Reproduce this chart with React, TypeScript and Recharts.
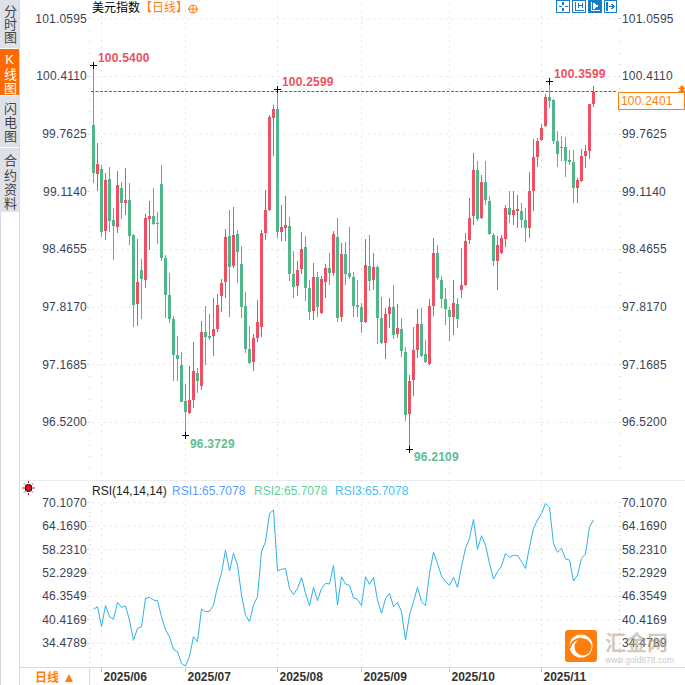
import { Bar, CartesianGrid, ComposedChart, Line, ReferenceDot, ReferenceLine, XAxis, YAxis } from 'recharts'

// daily candles, one value per trading day
const opens = [
  99.866, 99.314, 99.371, 98.673, 99.258, 98.797, 98.718, 99.157, 98.988, 99.022,
  98.628, 97.852, 98.234, 98.122, 98.808, 98.841, 98.763, 99.202, 98.369, 97.953,
  97.683, 97.278, 97.166, 96.761, 96.625, 96.772, 97.075, 96.929, 97.536, 97.491,
  97.491, 97.571, 97.941, 98.099, 98.616, 98.279, 98.639, 98.302, 97.829, 97.345,
  97.199, 97.469, 97.593, 98.65, 98.909, 99.944, 100.045, 98.661, 98.707, 98.729,
  98.189, 98.054, 98.245, 98.493, 98.032, 97.773, 98.156, 97.75, 98.099, 98.257,
  98.2, 98.605, 97.705, 98.414, 98.2, 98.156, 97.841, 97.818, 97.649, 98.279,
  98.122, 98.268, 97.694, 97.413, 97.739, 97.818, 97.514, 97.571, 97.311, 96.614,
  96.997, 97.334, 97.627, 97.289, 97.177, 97.829, 98.425, 98.122, 97.908, 97.784,
  97.705, 97.852, 98.009, 98.065, 98.572, 98.841, 99.359, 98.819, 99.224, 99.011,
  98.628, 98.336, 98.425, 98.583, 98.932, 98.853, 98.898, 98.898, 98.797, 98.707,
  99.123, 99.506, 99.697, 99.854, 100.18, 100.147, 99.686, 99.618, 99.618, 99.472,
  99.449, 99.157, 99.236, 99.517, 99.573, 100.102,
]
const highs = [
  100.54, 99.663, 99.416, 99.325, 99.393, 98.932, 99.348, 99.224, 99.382, 99.213,
  98.639, 98.583, 98.358, 98.864, 99.011, 99.157, 98.886, 99.416, 98.403, 98.2,
  97.716, 97.491, 97.311, 96.952, 97.154, 97.424, 97.132, 97.661, 97.829, 97.739,
  97.919, 97.964, 98.133, 98.695, 98.909, 98.943, 98.684, 98.504, 97.986, 97.604,
  97.514, 97.897, 98.684, 99.134, 99.978, 100.09, 100.2599, 98.965, 99.067, 98.83,
  98.448, 98.336, 98.661, 98.616, 98.122, 98.313, 98.212, 98.167, 98.302, 98.425,
  98.673, 98.819, 98.538, 98.549, 98.718, 98.212, 98.122, 97.863, 98.583, 98.628,
  98.425, 98.291, 97.93, 97.807, 97.919, 98.065, 97.852, 97.694, 97.368, 97.053,
  97.593, 97.795, 97.807, 97.447, 97.908, 98.594, 98.516, 98.167, 98.032, 97.818,
  98.122, 97.919, 98.482, 98.65, 99.045, 99.551, 99.461, 99.304, 99.461, 99.067,
  98.65, 98.616, 98.628, 98.965, 99.123, 99.123, 99.078, 98.988, 98.932, 99.337,
  99.708, 99.719, 99.877, 100.214, 100.3599, 100.158, 99.798, 99.742, 99.731, 99.584,
  99.584, 99.27, 99.595, 99.64, 100.102, 100.304,
]
const lows = [
  99.213, 99.123, 98.605, 98.572, 98.661, 98.347, 98.65, 98.808, 98.853, 98.516,
  97.593, 97.604, 97.683, 98.032, 98.459, 98.741, 98.527, 98.336, 97.694, 97.638,
  96.986, 96.986, 96.749, 96.3729, 96.614, 96.682, 96.85, 96.884, 97.166, 97.447,
  97.266, 97.536, 97.761, 97.919, 97.705, 98.257, 98.088, 97.694, 97.3, 97.177,
  97.098, 97.424, 97.48, 98.572, 98.9, 99.516, 98.594, 98.56, 98.56, 98.11,
  97.919, 97.942, 98.189, 97.886, 97.672, 97.672, 97.705, 97.739, 97.919, 98.065,
  98.167, 97.649, 97.649, 98.065, 98.133, 97.705, 97.705, 97.525, 97.638, 97.998,
  98.009, 97.402, 97.402, 97.233, 97.582, 97.458, 97.469, 97.255, 96.536, 96.2109,
  96.817, 97.244, 97.255, 97.188, 97.166, 97.716, 98.122, 97.807, 97.616, 97.435,
  97.503, 97.582, 97.919, 98.054, 98.527, 98.741, 98.786, 98.808, 98.965, 98.628,
  98.279, 98.009, 98.414, 98.493, 98.763, 98.741, 98.707, 98.707, 98.549, 98.594,
  98.898, 99.393, 99.686, 99.843, 100.056, 99.652, 99.393, 99.461, 99.281, 99.416,
  98.988, 98.988, 99.225, 99.382, 99.483, 100.068,
]
const closes = [
  99.325, 99.427, 98.661, 99.247, 98.786, 98.729, 99.191, 98.988, 99.022, 98.616,
  97.841, 98.099, 98.133, 98.819, 98.841, 98.752, 98.752, 98.369, 97.953, 97.683,
  97.278, 97.233, 96.749, 96.636, 96.772, 97.098, 96.986, 97.536, 97.48, 97.469,
  97.571, 97.841, 98.088, 98.605, 98.268, 98.628, 98.436, 97.818, 97.345, 97.188,
  97.469, 97.649, 98.65, 98.909, 99.955, 100.045, 98.661, 98.718, 98.741, 98.189,
  98.043, 98.234, 98.47, 98.032, 97.761, 98.156, 97.818, 98.133, 98.257, 98.2,
  98.639, 97.694, 98.414, 98.189, 98.156, 97.829, 97.818, 97.649, 98.291, 98.11,
  98.268, 97.694, 97.413, 97.739, 97.818, 97.503, 97.582, 97.323, 96.603, 96.986,
  97.334, 97.627, 97.266, 97.199, 97.829, 98.425, 98.144, 97.908, 97.795, 97.705,
  97.863, 97.683, 98.065, 98.56, 98.819, 99.359, 98.808, 99.224, 99.022, 98.639,
  98.336, 98.516, 98.594, 98.932, 98.853, 98.909, 98.92, 98.797, 98.707, 99.123,
  99.506, 99.686, 99.832, 100.18, 100.135, 99.686, 99.539, 99.607, 99.461, 99.449,
  99.157, 99.247, 99.517, 99.573, 100.102, 100.2401,
]
const rsiValues = [
  43.09, 43.77, 38.7, 44.1, 41.23, 40.56, 44.86, 43.6, 43.93, 40.39,
  35.24, 38.28, 38.7, 45.88, 46.13, 45.45, 45.28, 41.23, 37.85, 36.17,
  32.96, 32.37, 29.41, 28.74, 31.1, 36.17, 34.9, 43.17, 42.5, 42.58,
  44.19, 48.83, 52.21, 58.12, 52.88, 57.27, 54.32, 46.72, 41.65, 39.96,
  44.19, 46.3, 57.7, 60.23, 67.41, 68.25, 52.88, 53.22, 53.47, 48.41,
  46.8, 48.41, 51.19, 47.14, 43.93, 48.66, 45.28, 48.41, 49.67, 49.51,
  54.23, 44.19, 51.36, 49.51, 49.17, 46.04, 45.62, 44.02, 51.36, 49.42,
  51.19, 45.45, 42.08, 45.8, 47.14, 43.77, 44.86, 42.5, 35.32, 41.65,
  45.03, 48.66, 45.03, 44.02, 52.21, 57.53, 54.74, 51.53, 50.1, 49.17,
  51.19, 48.66, 53.9, 58.54, 61.07, 65.89, 58.29, 61.75, 59.38, 54.74,
  50.77, 52.63, 54.07, 57.27, 56.26, 56.77, 56.77, 55.16, 53.47, 58.96,
  63.61, 65.72, 67.41, 69.94, 68.93, 59.81, 57.53, 58.54, 55.84, 55.59,
  50.27, 51.79, 56.01, 57.11, 64.03, 65.7078,
]

const monthIndexes = [2, 23, 46, 67, 89, 112]
const monthLabels = ['2025/06', '2025/07', '2025/08', '2025/09', '2025/10', '2025/11']

const priceTicks = [101.0595, 100.411, 99.7625, 99.114, 98.4655, 97.817, 97.1685, 96.52]
const priceMinorTicks = [
  100.9298, 100.8001, 100.6704, 100.5407, 100.2813, 100.1516, 100.0219, 99.8922,
  99.6328, 99.5031, 99.3734, 99.2437, 98.9843, 98.8546, 98.7249, 98.5952,
  98.3358, 98.2061, 98.0764, 97.9467, 97.6873, 97.5576, 97.4279, 97.2982,
  97.0388, 96.9091, 96.7794, 96.6497, 96.3903, 96.2606, 96.1309, 96.0012,
]
const rsiTicks = [70.107, 64.169, 58.231, 52.2929, 46.3549, 40.4169, 34.4789]
const rsiMinorTicks = [
  68.9194, 67.7318, 66.5442, 65.3566, 62.9814, 61.7938, 60.6062, 59.4186,
  57.0434, 55.8558, 54.6682, 53.4806, 51.1053, 49.9177, 48.7301, 47.5425,
  45.1673, 43.9797, 42.7921, 41.6045, 39.2293, 38.0417, 36.8541, 35.6665,
  33.2913, 32.1037, 30.9161, 29.7285,
]

const lastPrice = 100.2401
const markIndexes = [0, 46, 114, 23, 79]
const markValues = [100.54, 100.2599, 100.3599, 96.3729, 96.2109]

const RED = '#EF4F62'
const GREEN = '#52B788'
const ORANGE = '#FF7F0E'
const BLUE = '#0080FF'
const AXIS_TEXT = '#3A4256'
const GRID = '#E6E6E6'
const LATIN = '"Liberation Sans", Arial, sans-serif'
const CJK = '"Liberation Sans", "Noto Sans CJK SC", sans-serif'

const rows = opens.map((open, i) => ({
  i,
  open,
  close: closes[i],
  high: highs[i],
  low: lows[i],
  range: [lows[i], highs[i]],
  rsi: rsiValues[i],
}))

function Candle({ x, y, width, height, payload }: any) {
  const { open, close, high, low } = payload
  const color = close >= open ? RED : GREEN
  const perUnit = height / (high - low)
  const top = Math.round(y + (high - Math.max(open, close)) * perUnit)
  const bottom = Math.round(y + (high - Math.min(open, close)) * perUnit)
  const center = Math.floor(x + width / 2)
  return (
    <g shapeRendering="crispEdges">
      <rect x={center} y={Math.round(y)} width={1} height={Math.max(1, Math.round(height))} fill={color} />
      <rect x={center - 1} y={top} width={3} height={Math.max(1, bottom - top)} fill={color} />
    </g>
  )
}

function ValueTick({ x, y, payload, side, majors }: any) {
  const major = majors.includes(payload.value)
  const left = side === 'left'
  const edge = left ? x - 2 : x + 2
  return (
    <g>
      {major ? (
        <>
          <rect x={left ? edge - 2 : edge} y={Math.floor(y)} width={2} height={1} fill="#C6CCD4" />
          <text x={left ? x - 4.5 : x + 5} y={y + 4} textAnchor={left ? 'end' : 'start'} fontSize={12} letterSpacing={0.2} fontFamily={LATIN} fill={AXIS_TEXT}>
            {payload.value.toFixed(4)}
          </text>
        </>
      ) : (
        <rect x={edge} y={Math.floor(y)} width={1} height={1} fill="#BFC5CC" />
      )}
    </g>
  )
}

function MonthTick({ x, y, payload }: any) {
  const label = monthLabels[monthIndexes.indexOf(payload.value)]
  return (
    <g>
      <rect x={Math.floor(x)} y={y} width={1} height={5} fill="#B8C4D0" />
      <text x={x + 2} y={y + 14} fontSize={12} fontWeight="bold" fontFamily={LATIN} fill="#333">
        {label}
      </text>
    </g>
  )
}

// the dashed line at the last price, snapped to whole pixels
function LastPriceLine(props: any) {
  const y = Math.floor(props.y1 ?? props.viewBox?.y ?? 92) + 0.5
  return <path d={`M91 ${y}H617`} fill="none" stroke={BLUE} strokeWidth={1} strokeDasharray="3 1.5" />
}

// black cross on the extreme plus its value
function markShape(color: string, dx: number, dy: number, value: number) {
  return ({ cx, cy }: any) => (
    <g>
      <path d={`M${cx - 3.5} ${cy}h7M${cx} ${cy - 3.5}v7`} stroke="#000" strokeWidth={1} shapeRendering="crispEdges" />
      <text x={cx + dx} y={cy + dy} fontSize={12} fontWeight="bold" letterSpacing={0.2} fontFamily={LATIN} fill={color}>
        {value.toFixed(4)}
      </text>
    </g>
  )
}

const markLabelOffsets = [
  [4.5, -3],
  [4.5, -3.5],
  [4.5, -3],
  [4.5, 12.5],
  [4.5, 11],
]

const tabs = [
  { text: '分时图', top: 0, height: 48, textTop: 5, spacing: 0, active: false },
  { text: 'K线图', top: 49, height: 46, textTop: 52, spacing: 1, active: true },
  { text: '闪电图', top: 96, height: 51, textTop: 102, spacing: 1, active: false },
  { text: '合约资料', top: 148, height: 64, textTop: 154, spacing: 1.3, active: false },
]

function Box({ style, children }: any) {
  return <div style={{ position: 'absolute', ...style }}>{children}</div>
}

function Toolbar() {
  const c = '#1A7CC4'
  return (
    <svg width={62} height={13} style={{ position: 'absolute', left: 555, top: 0 }}>
      <g fill="none" stroke={c} strokeWidth={1} shapeRendering="crispEdges">
        <rect x={1.5} y={0.5} width={13} height={11.5} />
        <path d="M8 2v3M8 8v3M4 6.5h2.5M9.5 6.5h3" strokeWidth={1.5} />
        <rect x={17.5} y={0.5} width={13} height={11.5} />
        <path d="M20 2v8h9M23 3v5M27 3v5M23 5.5h4" />
        <rect x={33.5} y={0.5} width={13} height={11.5} fill={c} />
        <path d="M36 2v8h9" stroke="#fff" />
        <path d="M38 3l5 3-5 3z" fill="#fff" stroke="#fff" />
        <rect x={49.5} y={0.5} width={12} height={11.5} />
        <path d="M52 2v9M54 6.5h5M57 4l2 2.5-2 2.5" strokeWidth={1.5} />
      </g>
    </svg>
  )
}

function Logo() {
  return (
    <svg width={34} height={34} style={{ position: 'absolute', left: 564, top: 629 }}>
      <rect x={1} y={1} width={32} height={32} rx={3} fill="#FF7F0E" />
      <circle cx={17} cy={17} r={11.5} fill="#fff" />
      <circle cx={19} cy={18} r={8.5} fill="#FF7F0E" />
      <path d="M5.5 19c2-7 8-10 13-9" stroke="#FF7F0E" strokeWidth={2} fill="none" />
    </svg>
  )
}

export default function App() {
  return (
    <div style={{ position: 'absolute', left: 0, top: 0, width: 685, height: 685, background: '#fff', overflow: 'hidden', fontFamily: CJK }}>
      {/* price panel */}
      <Box style={{ left: 0, top: 0 }}>
        <ComposedChart width={685} height={478} data={rows} margin={{ top: 4, right: 0, bottom: 0, left: 0 }} barCategoryGap={0}>
          <XAxis dataKey="i" xAxisId="x" hide type="category" padding={{ left: 0, right: 21.5 }} />
          <YAxis
            yAxisId="left"
            orientation="left"
            width={91.5}
            domain={[95.8941, 101.2266]}
            allowDataOverflow
            ticks={[...priceTicks, ...priceMinorTicks]}
            interval={0}
            axisLine={false}
            tickLine={false}
            tickSize={0}
            tickMargin={0}
            tick={(p: any) => <ValueTick {...p} side="left" majors={priceTicks} />}
          />
          <YAxis
            yAxisId="right"
            orientation="right"
            width={68}
            domain={[95.8941, 101.2266]}
            allowDataOverflow
            ticks={[...priceTicks, ...priceMinorTicks]}
            interval={0}
            axisLine={false}
            tickLine={false}
            tickSize={0}
            tickMargin={0}
            tick={(p: any) => <ValueTick {...p} side="right" majors={priceTicks} />}
          />
          <CartesianGrid xAxisId="x" yAxisId="left" horizontalValues={priceTicks} verticalValues={monthIndexes} stroke={GRID} strokeDasharray="2 4" />
          <ReferenceLine y={lastPrice} xAxisId="x" yAxisId="left" shape={LastPriceLine} />
          <Bar dataKey="range" xAxisId="x" yAxisId="left" shape={Candle} isAnimationActive={false} />
          {markIndexes.map((m, k) => (
            <ReferenceDot
              key={m}
              x={m}
              y={markValues[k]}
              xAxisId="x"
              yAxisId="left"
              ifOverflow="visible"
              shape={markShape(k < 3 ? RED : '#5CBE92', markLabelOffsets[k][0], markLabelOffsets[k][1], markValues[k])}
            />
          ))}
        </ComposedChart>
      </Box>

      {/* rsi panel */}
      <Box style={{ left: 0, top: 480 }}>
        <ComposedChart width={685} height={205} data={rows} margin={{ top: 0, right: 0, bottom: 0, left: 0 }} barCategoryGap={0}>
          <XAxis
            dataKey="i"
            xAxisId="x"
            type="category"
            scale="band"
            padding={{ left: 0, right: 21.5 }}
            height={18}
            ticks={monthIndexes}
            interval={0}
            axisLine={false}
            tickLine={false}
            tickSize={0}
            tickMargin={0}
            tick={(p: any) => <MonthTick {...p} />}
          />
          <YAxis
            yAxisId="left"
            orientation="left"
            width={91.5}
            domain={[28.49, 75.857]}
            allowDataOverflow
            ticks={[...rsiTicks, ...rsiMinorTicks]}
            interval={0}
            axisLine={false}
            tickLine={false}
            tickSize={0}
            tickMargin={0}
            tick={(p: any) => <ValueTick {...p} side="left" majors={rsiTicks} />}
          />
          <YAxis
            yAxisId="right"
            orientation="right"
            width={68}
            domain={[28.49, 75.857]}
            allowDataOverflow
            ticks={[...rsiTicks, ...rsiMinorTicks]}
            interval={0}
            axisLine={false}
            tickLine={false}
            tickSize={0}
            tickMargin={0}
            tick={(p: any) => <ValueTick {...p} side="right" majors={rsiTicks} />}
          />
          <CartesianGrid xAxisId="x" yAxisId="left" horizontalValues={rsiTicks} verticalValues={monthIndexes} stroke={GRID} strokeDasharray="2 4" />
          <Line dataKey="rsi" xAxisId="x" yAxisId="left" type="linear" stroke="#2FB1E8" strokeWidth={1} dot={false} isAnimationActive={false} />
        </ComposedChart>
      </Box>

      {/* tabs and frame */}
      {tabs.map((t) => (
        <div key={t.top}>
          <Box style={{ left: 0, top: t.top, width: 19, height: t.height, background: t.active ? '#FF6A00' : '#DFE1E9' }} />
          <Box style={{ left: 0, top: t.textTop, width: 19, lineHeight: '19px', fontSize: 13, letterSpacing: t.spacing, writingMode: 'vertical-rl', textOrientation: 'upright', color: t.active ? '#fff' : '#444' }}>
            {t.text}
          </Box>
        </div>
      ))}
      <Box style={{ left: 19, top: 0, width: 1, height: 685, background: '#D5DCE6' }} />
      <Box style={{ left: 0, top: 212, width: 1, height: 473, background: '#D5DCE6' }} />
      <Box style={{ left: 20, top: 480, width: 665, height: 1, background: '#E8ECF0' }} />
      <Box style={{ left: 20, top: 667, width: 665, height: 1, background: '#D5DCE6' }} />
      <Box style={{ left: 89, top: 667, width: 1, height: 18, background: '#D5DCE6' }} />

      {/* headers */}
      <Box style={{ left: 92, top: 0, height: 16, lineHeight: '16px', fontSize: 12, color: '#000', whiteSpace: 'nowrap' }}>
        美元指数<span style={{ color: ORANGE }}>【日线】</span>
      </Box>
      <svg width={12} height={12} style={{ position: 'absolute', left: 187, top: 3 }}>
        <circle cx={6} cy={6} r={4} fill="none" stroke={ORANGE} />
        <path d="M1 6h10M6 2v8" stroke={ORANGE} />
      </svg>
      <Toolbar />
      <Box style={{ left: 92, top: 483, height: 16, lineHeight: '16px', fontSize: 12, fontFamily: LATIN, whiteSpace: 'nowrap', color: '#222' }}>RSI(14,14,14)</Box>
      <Box style={{ left: 172, top: 483, height: 16, lineHeight: '16px', fontSize: 12, fontFamily: LATIN, whiteSpace: 'nowrap', color: '#5B9DFF' }}>RSI1:65.7078</Box>
      <Box style={{ left: 254, top: 483, height: 16, lineHeight: '16px', fontSize: 12, fontFamily: LATIN, whiteSpace: 'nowrap', color: '#5FD0A0' }}>RSI2:65.7078</Box>
      <Box style={{ left: 335, top: 483, height: 16, lineHeight: '16px', fontSize: 12, fontFamily: LATIN, whiteSpace: 'nowrap', color: '#4CC0F0' }}>RSI3:65.7078</Box>

      {/* last price box */}
      <Box style={{ left: 618, top: 92, width: 67, height: 18, boxSizing: 'border-box', border: `1px solid ${ORANGE}`, background: '#fff', color: ORANGE, fontSize: 12, lineHeight: '16px', letterSpacing: 0.2, fontFamily: LATIN, paddingLeft: 2 }}>
        100.2401
      </Box>
      <svg width={10} height={8} style={{ position: 'absolute', left: 677, top: 85 }}>
        <path d="M5 0l4 4H1zM5 3l4 4H1z" fill={ORANGE} />
      </svg>

      {/* rsi settings icon */}
      <svg width={16} height={16} style={{ position: 'absolute', left: 21, top: 480 }}>
        <circle cx={7.5} cy={8} r={3.5} fill="#E8102A" stroke="#000" strokeWidth={1} />
        <path d="M7.5 1v2M7.5 13v2M1 8h2M12 8h2M3 3.5l1.2 1.2M10.8 11.3l1.2 1.2M12 3.5l-1.2 1.2M4.2 11.3l-1.2 1.2" stroke="#E8102A" />
      </svg>

      {/* period switch */}
      <Box style={{ left: 35, top: 670, height: 16, lineHeight: '16px', fontSize: 12, fontWeight: 'bold', color: ORANGE, whiteSpace: 'nowrap' }}>日线</Box>
      <svg width={10} height={8} style={{ position: 'absolute', left: 64, top: 674 }}>
        <path d="M5 0l4 8H1z" fill={ORANGE} />
      </svg>

      {/* watermark */}
      <Logo />
      <Box style={{ left: 605, top: 630, fontSize: 21, lineHeight: '26px', color: 'rgba(185,165,140,0.6)', whiteSpace: 'nowrap', fontWeight: 'bold' }}>汇金网</Box>
      <Box style={{ left: 605, top: 655, fontSize: 8.5, lineHeight: '10px', color: 'rgba(150,150,150,0.55)', fontFamily: LATIN, whiteSpace: 'nowrap' }}>www.gold678.com</Box>
    </div>
  )
}
